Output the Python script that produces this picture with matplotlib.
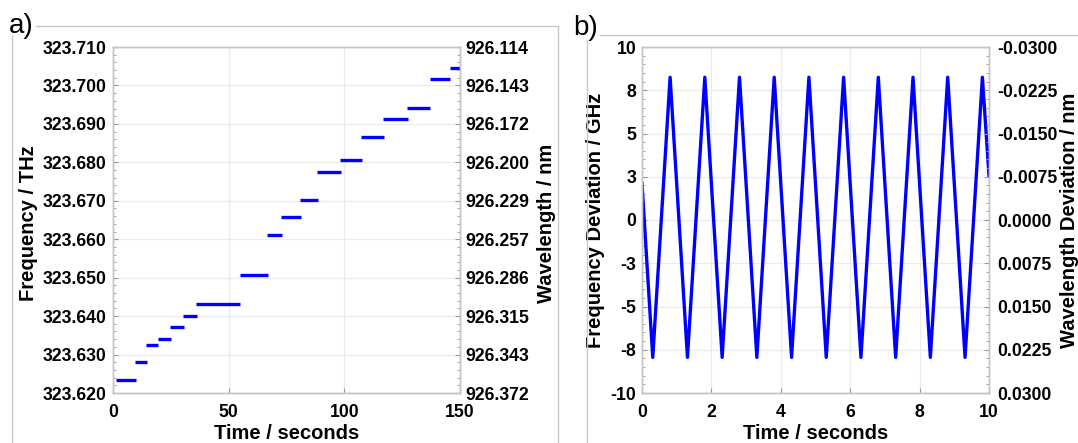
"""Two-panel laser frequency plot: step tuning (a) and triangle sweep (b)."""

import matplotlib
import matplotlib.pyplot as plt
from matplotlib.lines import Line2D
from matplotlib.ticker import AutoMinorLocator

matplotlib.use("Agg")

plt.rcParams["font.family"] = ["Liberation Sans", "DejaVu Sans"]

# panel a: frequency steps (start s, end s, THz)
step_start = [1.5, 9.7, 14.4, 19.3, 24.7, 30.4, 35.9, 54.8, 66.5, 72.8,
              81.0, 88.4, 98.1, 107.3, 116.8, 127.2, 137.0, 145.8]
step_end = [9.8, 14.7, 19.6, 24.9, 30.7, 36.3, 55.1, 66.8, 72.9, 81.3,
            88.8, 98.5, 107.6, 117.0, 127.5, 137.2, 145.8, 150.0]
step_freq = [323.6235, 323.6281, 323.6326, 323.6341, 323.6371, 323.6401,
             323.6431, 323.6506, 323.6611, 323.6657, 323.6701, 323.6776,
             323.6806, 323.6867, 323.6912, 323.6942, 323.7017, 323.7046]

a_xticks = [0, 50, 100, 150]
a_yticks = [323.62, 323.63, 323.64, 323.65, 323.66, 323.67, 323.68,
            323.69, 323.70, 323.71]
a_wavelength_labels = ["926.372", "926.343", "926.315", "926.286", "926.257",
                       "926.229", "926.200", "926.172", "926.143", "926.114"]

# panel b: triangle sweep vertices (s, GHz)
sweep_time = [0.0, 0.31, 0.81, 1.31, 1.81, 2.31, 2.81, 3.31, 3.81, 4.31,
              4.81, 5.31, 5.81, 6.31, 6.81, 7.31, 7.81, 8.31, 8.81, 9.31,
              9.81, 10.0]
sweep_dev = [2.12, -7.94, 8.25, -7.94, 8.25, -7.94, 8.25, -7.94, 8.25, -7.94,
             8.25, -7.94, 8.25, -7.94, 8.25, -7.94, 8.25, -7.94, 8.25, -7.94,
             8.25, 2.56]

b_xticks = [0, 2, 4, 6, 8, 10]
b_yticks = [-10, -7.5, -5, -2.5, 0, 2.5, 5, 7.5, 10]
b_ytick_labels = ["-10", "-8", "-5", "-3", "0", "3", "5", "8", "10"]
b_wl_labels = ["0.0300", "0.0225", "0.0150", "0.0075", "0.0000",
               "-0.0075", "-0.0150", "-0.0225", "-0.0300"]

W, H = 1078, 443
TICK_FS = 12.7
LABEL_FS = 14.5
SPINE = "#c4c4c4"
TICKC = "#9a9a9a"
GRID = "#ebebeb"
BLUE = "#0000ff"


def style_axes(ax, minor_y=True):
    for s in ax.spines.values():
        s.set_color(SPINE)
        s.set_linewidth(1.0)
    ax.tick_params(direction="in", color=TICKC, length=3.5, width=0.8,
                   labelsize=TICK_FS)
    ax.tick_params(which="minor", direction="in", color=TICKC, length=2,
                   width=0.6)
    if minor_y:
        ax.yaxis.set_minor_locator(AutoMinorLocator(5))
    for lab in ax.get_xticklabels() + ax.get_yticklabels():
        lab.set_fontweight("bold")


def fig_line(fig, x0, y0, x1, y1):
    fig.add_artist(Line2D([x0 / W, x1 / W], [1 - y0 / H, 1 - y1 / H],
                          color="#c8c8c8", lw=1.0))


fig = plt.figure(figsize=(W / 100, H / 100), dpi=100)

# panel frames
fig_line(fig, 36, 26, 558, 26)
fig_line(fig, 12, 36, 12, H)
fig_line(fig, 558, 26, 558, H)
fig_line(fig, 600, 35, W, 35)
fig_line(fig, 587, 40, 587, H)

fig.text(9 / W, 1 - 33 / H, "a)", fontsize=20, va="baseline")
fig.text(573 / W, 1 - 35 / H, "b)", fontsize=20, va="baseline")

# ---- panel a
ax = fig.add_axes([113 / W, 1 - 393 / H, 347 / W, 346 / H])
ax.hlines(step_freq, step_start, step_end, colors=BLUE, lw=2.4)
ax.set_xlim(0, 150)
ax.set_ylim(323.62, 323.71)
ax.set_xticks(a_xticks)
ax.set_yticks(a_yticks)
ax.set_yticklabels([f"{v:.3f}" for v in a_yticks])
ax.grid(True, color=GRID, lw=0.9)
ax.set_axisbelow(True)
ax.tick_params(axis="x", pad=8)
ax.tick_params(axis="y", pad=4.5)
style_axes(ax)
ax.set_xlabel("Time / seconds", fontsize=LABEL_FS, fontweight="bold")
ax.xaxis.set_label_coords(0.5, -0.09)
ax.set_ylabel("Frequency / THz", fontsize=LABEL_FS, fontweight="bold")
ax.yaxis.set_label_coords(-0.216, 0.49)

ax2 = ax.twinx()
ax2.set_ylim(323.62, 323.71)
ax2.set_yticks(a_yticks)
ax2.set_yticklabels(a_wavelength_labels)
ax2.tick_params(axis="y", pad=4)
style_axes(ax2)
ax2.set_ylabel("Wavelength / nm", fontsize=LABEL_FS, fontweight="bold")
ax2.yaxis.set_label_coords(1.222, 0.49)

# ---- panel b
bx = fig.add_axes([642 / W, 1 - 393 / H, 347 / W, 346 / H])
bx.plot(sweep_time, sweep_dev, color=BLUE, lw=2.4)
bx.set_xlim(0, 10)
bx.set_ylim(-10, 10)
bx.set_xticks(b_xticks)
bx.set_yticks(b_yticks)
bx.set_yticklabels(b_ytick_labels)
bx.grid(True, color=GRID, lw=0.9)
bx.set_axisbelow(True)
bx.tick_params(axis="x", pad=8)
bx.tick_params(axis="y", pad=4)
style_axes(bx)
bx.set_xlabel("Time / seconds", fontsize=LABEL_FS, fontweight="bold")
bx.xaxis.set_label_coords(0.5, -0.09)
bx.set_ylabel("Frequency Deviation / GHz", fontsize=LABEL_FS,
              fontweight="bold")
bx.yaxis.set_label_coords(-0.107, 0.5)

bx2 = bx.twinx()
bx2.set_ylim(-10, 10)
bx2.set_yticks(b_yticks)
bx2.set_yticklabels(b_wl_labels)
bx2.tick_params(axis="y", pad=6)
style_axes(bx2)
bx2.set_ylabel("Wavelength Deviation / nm", fontsize=LABEL_FS,
               fontweight="bold")
bx2.yaxis.set_label_coords(1.205, 0.5)

fig.savefig("out.png", dpi=100)
plt.close(fig)
